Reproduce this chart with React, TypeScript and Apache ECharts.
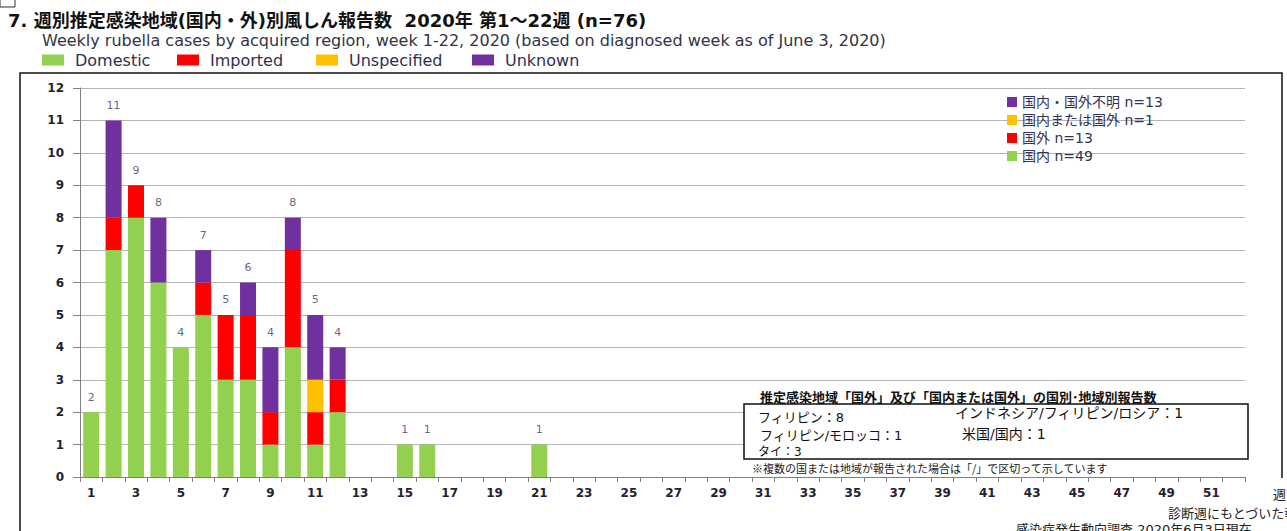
import React, { useEffect, useRef } from "react";
import * as echarts from "echarts";

const weeks: string[] = Array.from({ length: 52 }, (_, i) => String(i + 1));
// values per week 1..52
const domestic = [2, 7, 8, 6, 4, 5, 3, 3, 1, 4, 1, 2, 0, 0, 1, 1, 0, 0, 0, 0, 1, 0, 0, 0, 0, 0, 0, 0, 0, 0, 0, 0, 0, 0, 0, 0, 0, 0, 0, 0, 0, 0, 0, 0, 0, 0, 0, 0, 0, 0, 0, 0];
const imported = [0, 1, 1, 0, 0, 1, 2, 2, 1, 3, 1, 1, 0, 0, 0, 0, 0, 0, 0, 0, 0, 0, 0, 0, 0, 0, 0, 0, 0, 0, 0, 0, 0, 0, 0, 0, 0, 0, 0, 0, 0, 0, 0, 0, 0, 0, 0, 0, 0, 0, 0, 0];
const unspecified = [0, 0, 0, 0, 0, 0, 0, 0, 0, 0, 1, 0, 0, 0, 0, 0, 0, 0, 0, 0, 0, 0, 0, 0, 0, 0, 0, 0, 0, 0, 0, 0, 0, 0, 0, 0, 0, 0, 0, 0, 0, 0, 0, 0, 0, 0, 0, 0, 0, 0, 0, 0];
const unknown = [0, 3, 0, 2, 0, 1, 0, 1, 2, 1, 2, 1, 0, 0, 0, 0, 0, 0, 0, 0, 0, 0, 0, 0, 0, 0, 0, 0, 0, 0, 0, 0, 0, 0, 0, 0, 0, 0, 0, 0, 0, 0, 0, 0, 0, 0, 0, 0, 0, 0, 0, 0];

const seriesNames = ["Domestic", "Imported", "Unspecified", "Unknown"];
const seriesJa: Record<string, string> = {
  Domestic: "国内 n=49",
  Imported: "国外 n=13",
  Unspecified: "国内または国外 n=1",
  Unknown: "国内・国外不明 n=13",
};
const colors = ["#92D050", "#FF0000", "#FFC000", "#7030A0"];

const title = "7. 週別推定感染地域(国内・外)別風しん報告数  2020年 第1～22週 (n=76)";
const subtitle = "Weekly rubella cases by acquired region, week 1-22, 2020 (based on diagnosed week as of June 3, 2020)";
const insetTitle = "推定感染地域「国外」及び「国内または国外」の国別･地域別報告数";
const insetLines = [
  { t: "フィリピン：8", x: 758, y: 417, s: 13 },
  { t: "フィリピン/モロッコ：1", x: 760, y: 435, s: 13 },
  { t: "タイ：3", x: 758, y: 452, s: 12 },
  { t: "インドネシア/フィリピン/ロシア：1", x: 955, y: 413, s: 14 },
  { t: "米国/国内：1", x: 962, y: 434, s: 14 },
];
const note = "※複数の国または地域が報告された場合は「/」で区切って示しています";
const footer1 = "診断週にもとづいた報告";
const footer2 = "感染症発生動向調査 2020年6月3日現在";

const JA = "'Noto Sans CJK JP', sans-serif";
const EN = "'DejaVu Sans', sans-serif";
const MIX = "'DejaVu Sans', 'Noto Sans CJK JP', sans-serif";

export default function App() {
  const ref = useRef<HTMLDivElement>(null);
  useEffect(() => {
    if (!ref.current) return;
    const chart = echarts.init(ref.current, null, { renderer: "svg" });
    const totals = weeks.map((_, i) => {
      const t = domestic[i] + imported[i] + unspecified[i] + unknown[i];
      return t > 0 ? t : "-";
    });
    const data = [domestic, imported, unspecified, unknown];
    const topLegendLefts = [42, 177, 316, 472];
    const option: any = {
      animation: false,
      backgroundColor: "#ffffff",
      grid: { left: 80, right: 42, top: 88, bottom: 54, containLabel: false },
      legend: [
        ...seriesNames.map((n, i) => ({
          data: [n],
          left: topLegendLefts[i],
          top: 52,
          itemWidth: 22,
          itemHeight: 11,
          icon: "rect",
          selectedMode: false,
          padding: 0,
          textStyle: { fontFamily: EN, fontSize: 16, color: "#2f2f4f", padding: [0, 0, 0, 6] },
        })),
        {
          data: [...seriesNames].reverse(),
          orient: "vertical",
          left: 1007,
          top: 95,
          itemWidth: 10,
          itemHeight: 10,
          itemGap: 4,
          icon: "rect",
          selectedMode: false,
          padding: 0,
          formatter: (name: string) => seriesJa[name],
          textStyle: { fontFamily: MIX, fontSize: 14, lineHeight: 14, color: "#333355" },
        },
      ],
      xAxis: {
        type: "category",
        data: weeks,
        axisLine: { lineStyle: { color: "#808080", width: 1 } },
        axisTick: { show: true, interval: 0, length: 5, lineStyle: { color: "#808080" } },
        axisLabel: { interval: 1, margin: 10, fontFamily: EN, fontSize: 12, fontWeight: "bold", color: "#222233" },
      },
      yAxis: {
        type: "value",
        min: 0,
        max: 12,
        interval: 1,
        axisLine: { show: true, lineStyle: { color: "#808080", width: 1 } },
        axisTick: { show: true, length: 7, lineStyle: { color: "#808080" } },
        axisLabel: { margin: 16, fontFamily: EN, fontSize: 12, fontWeight: "bold", color: "#222233" },
        splitLine: { lineStyle: { color: "#b4b4b4", width: 1 } },
      },
      series: [
        ...seriesNames.map((n, i) => ({
          name: n,
          type: "bar",
          stack: "total",
          barWidth: 16,
          data: data[i].map((v) => (v > 0 ? v : "-")),
          itemStyle: { color: colors[i] },
        })),
        {
          name: "total",
          type: "scatter",
          data: totals,
          symbolSize: 1,
          itemStyle: { color: "rgba(0,0,0,0)" },
          label: {
            show: true,
            position: "top",
            distance: 9,
            fontFamily: EN,
            fontSize: 11,
            color: "#404050",
          },
          silent: true,
        },
      ],
      graphic: [
        { type: "rect", shape: { x: 0, y: -2, width: 15, height: 9 }, style: { fill: "none", stroke: "#333", lineWidth: 1 } },
        { type: "text", x: 8, y: 20, style: { text: title, font: `bold 18px ${MIX}`, fill: "#111", verticalAlign: "middle" } },
        { type: "text", x: 42, y: 40, style: { text: subtitle, font: `16px ${EN}`, fill: "#333344", verticalAlign: "middle" } },
        { type: "polyline", shape: { points: [[20, 540], [20, 73], [1282, 73], [1282, 478]] }, style: { fill: "none", stroke: "#111", lineWidth: 1.5 } },
        { type: "text", x: 760, y: 396, style: { text: insetTitle, font: `bold 13px ${JA}`, fill: "#111", verticalAlign: "middle" }, z: 10 },
        { type: "rect", shape: { x: 744, y: 404, width: 504, height: 55 }, style: { fill: "#ffffff", stroke: "#111", lineWidth: 1.5 }, z: 10 },
        ...insetLines.map((l) => ({
          type: "text",
          x: l.x,
          y: l.y,
          z: 11,
          style: { text: l.t, font: `${l.s}px ${MIX}`, fill: "#111", verticalAlign: "middle", lineHeight: l.s },
        })),
        { type: "text", x: 752, y: 468, z: 10, style: { text: note, font: `11px ${JA}`, fill: "#222", verticalAlign: "middle" } },
        { type: "text", x: 1273, y: 493, z: 10, style: { text: "週", font: `13px ${JA}`, fill: "#222", verticalAlign: "middle" } },
        { type: "text", x: 1168, y: 512, z: 10, style: { text: footer1, font: `13px ${JA}`, fill: "#222", verticalAlign: "middle" } },
        { type: "text", x: 1016, y: 529, z: 10, style: { text: footer2, font: `13px ${MIX}`, fill: "#222", verticalAlign: "middle" } },
      ],
    };
    chart.setOption(option);
    return () => chart.dispose();
  }, []);
  return <div ref={ref} style={{ width: 1287, height: 531, position: "absolute", left: 0, top: 0 }} />;
}
